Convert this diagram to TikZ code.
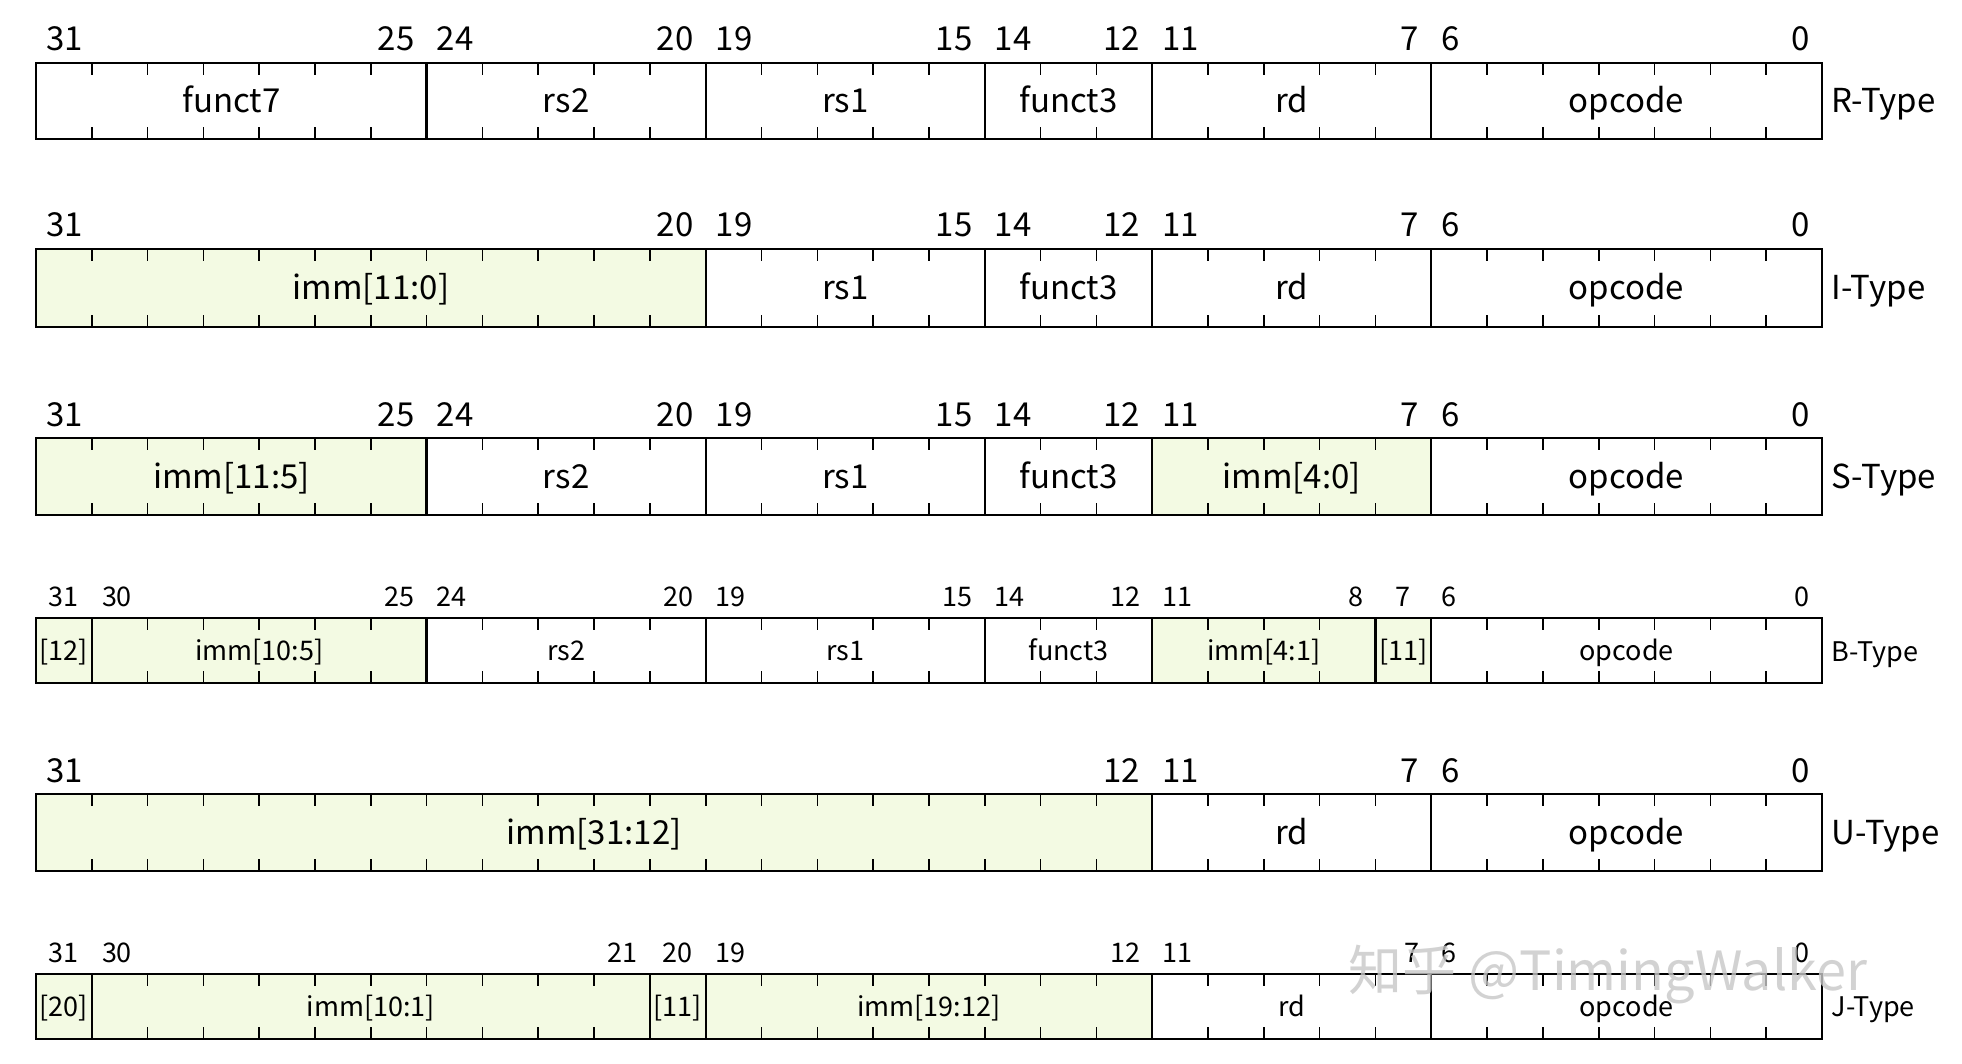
\documentclass[tikz,border=0pt]{standalone}
\usepackage{fontspec}
\setmainfont{Noto Sans CJK JP}
\definecolor{immg}{HTML}{F3FAE3}
\newcommand\bw{55.81}
\newcommand\fld[8]{%
 \pgfmathsetmacro\xl{36+(31-#3)*\bw}\pgfmathsetmacro\xr{36+(32-#4)*\bw}%
 \draw[line width=2.4pt, fill=#6] (\xl,#1) rectangle (\xr,#2);%
 \pgfmathtruncatemacro\nb{#3-#4}%
 \ifnum\nb>0 \foreach \i in {1,...,\nb}{\pgfmathsetmacro\xt{\xl+\i*\bw}\draw[line width=1.6pt] (\xt,#1)--++(0,12); \draw[line width=1.6pt] (\xt,#2)--++(0,-12);}%
 \node[anchor=base west,inner sep=0pt,font=#7] (h#3r#1) at (\xl+10,#1-12) {#3};%
 \node[anchor=base east,inner sep=0pt,font=#7] (l#4r#1) at (\xr-12,#1-12) {#4};%
 \else
 \node[anchor=base,inner sep=0pt,font=#7] (h#3r#1) at ({(\xl+\xr)/2},#1-12) {#3};%
 \fi
 \node[anchor=base,inner sep=0pt,font=#7] (t#3r#1) at ({(\xl+\xr)/2},{(#1+#2)/2+#8}) {#5};%
}
\newcommand\bigf{\fontsize{33}{36}\selectfont}
\newcommand\smlf{\fontsize{27}{30}\selectfont}
\begin{document}
\begin{tikzpicture}[x=1pt,y=-1pt]
\useasboundingbox[fill=white] (0,0) rectangle (1962,1064);
% R
\fld{63}{139}{31}{25}{funct7}{white}{\bigf}{12}
\fld{63}{139}{24}{20}{rs2}{white}{\bigf}{12}
\fld{63}{139}{19}{15}{rs1}{white}{\bigf}{12}
\fld{63}{139}{14}{12}{funct3}{white}{\bigf}{12}
\fld{63}{139}{11}{7}{rd}{white}{\bigf}{12}
\fld{63}{139}{6}{0}{opcode}{white}{\bigf}{12}
\node[anchor=west,font=\bigf] (rt) at (1828,104) {R-Type};
% I
\fld{249}{327}{31}{20}{imm[11:0]}{immg}{\bigf}{12}
\fld{249}{327}{19}{15}{rs1}{white}{\bigf}{12}
\fld{249}{327}{14}{12}{funct3}{white}{\bigf}{12}
\fld{249}{327}{11}{7}{rd}{white}{\bigf}{12}
\fld{249}{327}{6}{0}{opcode}{white}{\bigf}{12}
\node[anchor=west,font=\bigf] (it) at (1828,291) {I-Type};
% S
\fld{438}{515}{31}{25}{imm[11:5]}{immg}{\bigf}{12}
\fld{438}{515}{24}{20}{rs2}{white}{\bigf}{12}
\fld{438}{515}{19}{15}{rs1}{white}{\bigf}{12}
\fld{438}{515}{14}{12}{funct3}{white}{\bigf}{12}
\fld{438}{515}{11}{7}{imm[4:0]}{immg}{\bigf}{12}
\fld{438}{515}{6}{0}{opcode}{white}{\bigf}{12}
\node[anchor=west,font=\bigf] (st) at (1828,480) {S-Type};
% B
\fld{618}{683}{31}{31}{[12]}{immg}{\smlf}{10}
\fld{618}{683}{30}{25}{imm[10:5]}{immg}{\smlf}{10}
\fld{618}{683}{24}{20}{rs2}{white}{\smlf}{10}
\fld{618}{683}{19}{15}{rs1}{white}{\smlf}{10}
\fld{618}{683}{14}{12}{funct3}{white}{\smlf}{10}
\fld{618}{683}{11}{8}{imm[4:1]}{immg}{\smlf}{10}
\fld{618}{683}{7}{7}{[11]}{immg}{\smlf}{10}
\fld{618}{683}{6}{0}{opcode}{white}{\smlf}{10}
\node[anchor=west,font=\smlf] (bt) at (1828,655) {B-Type};
% U
\fld{794}{871}{31}{12}{imm[31:12]}{immg}{\bigf}{12}
\fld{794}{871}{11}{7}{rd}{white}{\bigf}{12}
\fld{794}{871}{6}{0}{opcode}{white}{\bigf}{12}
\node[anchor=west,font=\bigf] (ut) at (1828,836) {U-Type};
% J
\fld{974}{1039}{31}{31}{[20]}{immg}{\smlf}{10}
\fld{974}{1039}{30}{21}{imm[10:1]}{immg}{\smlf}{10}
\fld{974}{1039}{20}{20}{[11]}{immg}{\smlf}{10}
\fld{974}{1039}{19}{12}{imm[19:12]}{immg}{\smlf}{10}
\fld{974}{1039}{11}{7}{rd}{white}{\smlf}{10}
\fld{974}{1039}{6}{0}{opcode}{white}{\smlf}{10}
\node[anchor=west,font=\smlf] (jt) at (1828,1010) {J-Type};
\node[anchor=west,font=\fontsize{54}{58}\selectfont,text=black!22,opacity=0.8] (wm) at (1345,975) {知乎 @TimingWalker};
\end{tikzpicture}
\end{document}
